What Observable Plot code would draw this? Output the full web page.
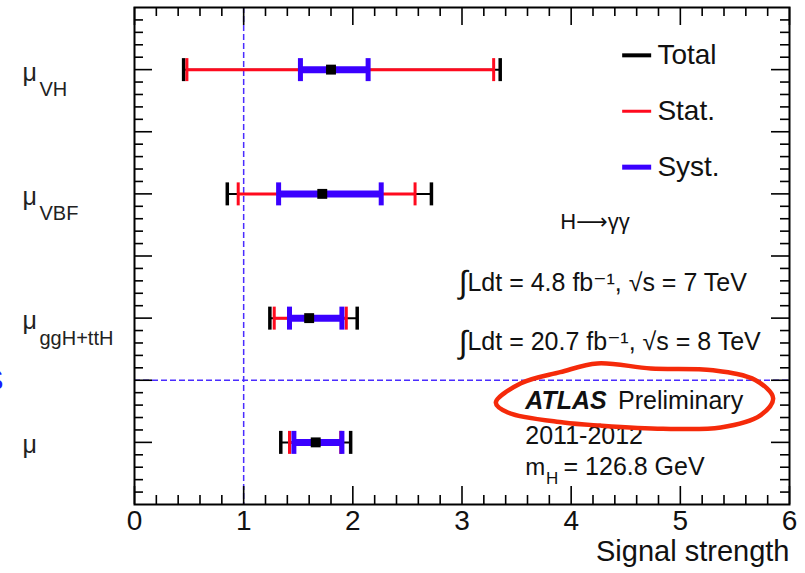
<!DOCTYPE html>
<html><head><meta charset="utf-8">
<script src="https://cdn.jsdelivr.net/npm/d3@7"></script>
<script src="https://cdn.jsdelivr.net/npm/@observablehq/plot@0.6"></script>
<style>body{margin:0;background:#fff;} svg{display:block}</style>
</head><body><div id="chart"></div>
<script>
// ---- data ----
const subscripts = ["VH", "VBF", "ggH+ttH", ""];
const rowY = [7, 5, 3, 1];
const central = [1.80, 1.72, 1.60, 1.66];
const totalLo = [0.45, 0.85, 1.24, 1.34];
const totalHi = [3.35, 2.72, 2.04, 1.98];
const statLo = [0.48, 0.95, 1.28, 1.42];
const statHi = [3.29, 2.57, 1.94, 1.89];
const systLo = [1.52, 1.32, 1.42, 1.46];
const systHi = [2.14, 2.26, 1.90, 1.90];
const xTicks = [0, 1, 2, 3, 4, 5, 6];
const xTickLabels = ["0", "1", "2", "3", "4", "5", "6"];
const yMajor = [1, 2, 3, 4, 5, 6, 7];
const legendLabels = ["Total", "Stat.", "Syst."];
const legendY = [7.23, 6.33, 5.43];
// hand-drawn highlight loop around "ATLAS Preliminary"
const loopX = [3.31, 3.54, 3.90, 4.24, 4.73, 5.30, 5.69, 5.85, 5.73, 5.37, 4.84, 4.27, 3.93, 3.42];
const loopY = [1.64, 1.95, 2.13, 2.27, 2.19, 2.16, 2.00, 1.71, 1.43, 1.24, 1.22, 1.27, 1.32, 1.48];

// ---- styling ----
const W = 805, H = 573, mL = 134, mR = 16, mT = 7, mB = 69;
const fW = W - mL - mR, fH = H - mT - mB;
const RED = "#ff0a1e", BLUE = "#3a00ff", DASH = "#4a2cff";
const FONT = "Liberation Sans, Arial, Helvetica, DejaVu Sans, sans-serif";

const rows = rowY.map((y, i) => ({
  y, c: central[i], tl: totalLo[i], th: totalHi[i], sl: statLo[i], sh: statHi[i],
  yl: systLo[i], yh: systHi[i], sub: subscripts[i]
}));
const capSym = (h) => ({draw(ctx) { ctx.moveTo(0, -h); ctx.lineTo(0, h); }});
const lineSym = (w) => ({draw(ctx) { ctx.moveTo(-w, 0); ctx.lineTo(w, 0); }});
const caps = (lo, hi) => rows.flatMap(r => [{x: r[lo], y: r.y}, {x: r[hi], y: r.y}]);
const xMinor = d3.range(0, 6.001, 0.2).map(v => +v.toFixed(2)).filter(v => !xTicks.includes(v));
const yMinor = d3.range(0, 8.001, 0.2).map(v => +v.toFixed(2)).filter(v => Math.abs(v - Math.round(v)) > 1e-6);
const loop = loopX.map((x, i) => ({x, y: loopY[i]}));
const legend = legendLabels.map((t, i) => ({t, y: legendY[i], c: ["black", RED, BLUE][i], w: [4, 3, 5][i]}));

const plot = Plot.plot({
  width: W, height: H,
  marginLeft: mL, marginRight: mR, marginTop: mT, marginBottom: mB,
  x: {domain: [0, 6], axis: null},
  y: {domain: [0, 8], axis: null},
  style: {fontFamily: FONT, background: "white", color: "black", overflow: "visible"},
  marks: [
    Plot.ruleX([1], {stroke: DASH, strokeWidth: 1.5, strokeDasharray: "6,3"}),
    Plot.ruleY([2], {stroke: DASH, strokeWidth: 1.5, strokeDasharray: "6,3"}),
    // total
    Plot.link(rows, {x1: "tl", x2: "th", y1: "y", y2: "y", stroke: "black", strokeWidth: 2}),
    Plot.dot(caps("tl", "th"), {x: "x", y: "y", symbol: capSym(11.5), stroke: "black", fill: "none", strokeWidth: 3.5}),
    // stat
    Plot.link(rows, {x1: "sl", x2: "sh", y1: "y", y2: "y", stroke: RED, strokeWidth: 3}),
    Plot.dot(caps("sl", "sh"), {x: "x", y: "y", symbol: capSym(11.5), stroke: RED, fill: "none", strokeWidth: 3}),
    // syst
    Plot.link(rows, {x1: "yl", x2: "yh", y1: "y", y2: "y", stroke: BLUE, strokeWidth: 7}),
    Plot.dot(caps("yl", "yh"), {x: "x", y: "y", symbol: capSym(11.5), stroke: BLUE, fill: "none", strokeWidth: 5}),
    // central value
    Plot.dot(rows, {x: "c", y: "y", symbol: "square", r: 5.6, fill: "black", stroke: "none"}),
    // frame & ticks
    Plot.frame({stroke: "black", strokeWidth: 2}),
    Plot.ruleX(xTicks, {x: d => d, insetTop: fH - 18, stroke: "black", strokeWidth: 1.6}),
    Plot.ruleX(xMinor, {x: d => d, insetTop: fH - 9, stroke: "black", strokeWidth: 1.6}),
    Plot.ruleX(xTicks, {x: d => d, insetBottom: fH - 18, stroke: "black", strokeWidth: 1.6}),
    Plot.ruleX(xMinor, {x: d => d, insetBottom: fH - 9, stroke: "black", strokeWidth: 1.6}),
    Plot.ruleY(yMajor, {y: d => d, insetRight: fW - 18, stroke: "black", strokeWidth: 1.6}),
    Plot.ruleY(yMinor, {y: d => d, insetRight: fW - 9, stroke: "black", strokeWidth: 1.6}),
    Plot.ruleY(yMajor, {y: d => d, insetLeft: fW - 18, stroke: "black", strokeWidth: 1.6}),
    Plot.ruleY(yMinor, {y: d => d, insetLeft: fW - 9, stroke: "black", strokeWidth: 1.6}),
    // tick labels
    Plot.text(xTicks, {x: d => d, text: (d, i) => xTickLabels[i], frameAnchor: "bottom", lineAnchor: "middle", dy: 17, fontSize: 28, fill: "#111"}),
    Plot.text(["Signal strength"], {frameAnchor: "bottom-right", textAnchor: "end", lineAnchor: "middle", dy: 47.5, fontSize: 29, fill: "#111"}),
    // row labels
    Plot.text(rows, {y: "y", text: () => "μ", frameAnchor: "left", textAnchor: "start", lineAnchor: "middle", dx: -112, dy: 3, fontSize: 25, fill: "#222"}),
    Plot.text(rows, {y: "y", text: "sub", frameAnchor: "left", textAnchor: "start", lineAnchor: "middle", dx: -95, dy: 20, fontSize: 20, fill: "#222"}),
    // cropped blue glyph at left edge
    Plot.text(["S"], {y: () => 2, frameAnchor: "left", textAnchor: "end", lineAnchor: "middle", dx: -131, fontSize: 30, fill: "#1a1aff"}),
    // legend
    Plot.dot(legend, {x: () => 4.60, y: "y", symbol: d => lineSym(14.5), stroke: "c", strokeWidth: "w", fill: "none"}),
    Plot.text(legend, {x: () => 4.79, y: "y", text: "t", textAnchor: "start", fontSize: 28, fill: "#111"}),
    // annotations
    Plot.text(["H⟶γγ"], {x: () => 3.90, y: () => 4.54, textAnchor: "start", fontSize: 22, fill: "#111"}),
    Plot.text(["∫", "∫"], {x: () => 2.97, y: (d, i) => [3.57, 2.61][i], textAnchor: "start", fontSize: 32, fontWeight: 300, fill: "#111"}),
    Plot.text(["Ldt = 4.8 fb⁻¹, √s = 7 TeV", "Ldt = 20.7 fb⁻¹, √s = 8 TeV"], {x: () => 3.05, y: (d, i) => [3.57, 2.61][i], textAnchor: "start", fontSize: 25, fill: "#111"}),
    Plot.text(["ATLAS"], {x: () => 3.58, y: () => 1.67, textAnchor: "start", fontSize: 25, fontWeight: "bold", fontStyle: "italic", fill: "#111"}),
    Plot.text(["Preliminary"], {x: () => 4.43, y: () => 1.67, textAnchor: "start", fontSize: 25, fill: "#111"}),
    Plot.text(["2011-2012"], {x: () => 3.58, y: () => 1.11, textAnchor: "start", fontSize: 25, fill: "#111"}),
    Plot.text(["m"], {x: () => 3.58, y: () => 0.60, textAnchor: "start", fontSize: 24, fill: "#111"}),
    Plot.text(["H"], {x: () => 3.77, y: () => 0.42, textAnchor: "start", fontSize: 17, fill: "#111"}),
    Plot.text(["= 126.8 GeV"], {x: () => 3.93, y: () => 0.60, textAnchor: "start", fontSize: 25, fill: "#111"}),
    // highlight loop
    Plot.line(loop, {x: "x", y: "y", curve: "catmull-rom-closed", stroke: "#f52a0a", strokeWidth: 4.5})
  ]
});
document.getElementById("chart").appendChild(plot);
</script>
</body></html>
